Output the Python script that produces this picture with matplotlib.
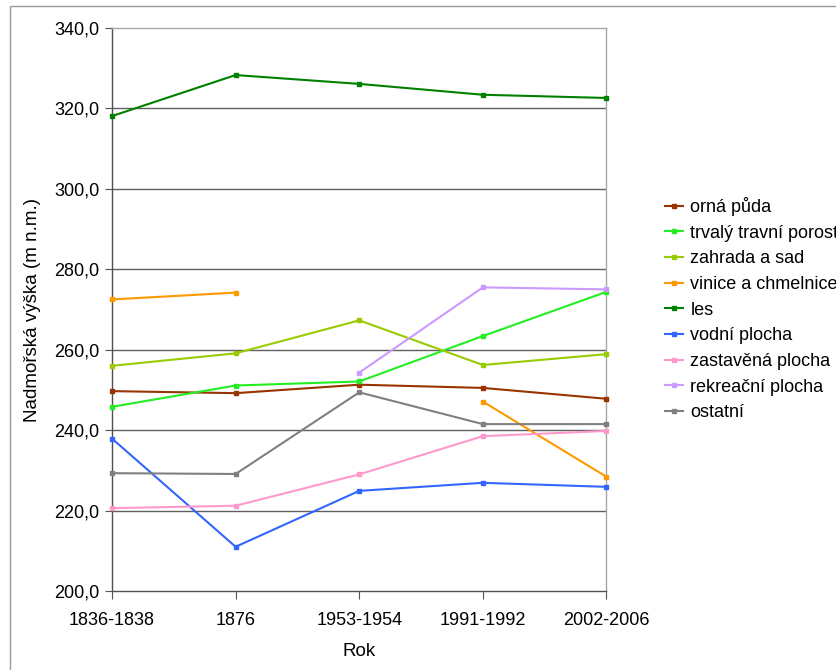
import numpy as np
import matplotlib
matplotlib.use("Agg")
import matplotlib.pyplot as plt
from matplotlib.patches import Rectangle

plt.rcParams['font.family'] = ['Liberation Sans', 'DejaVu Sans']

categories = ["1836-1838", "1876", "1953-1954", "1991-1992", "2002-2006"]
nan = np.nan
orna_puda = [249.7, 249.2, 251.3, 250.5, 247.8]
trvaly_travni_porost = [245.8, 251.1, 252.1, 263.4, 274.4]
zahrada_a_sad = [256.0, 259.1, 267.3, 256.2, 258.9]
vinice_a_chmelnice = [272.5, 274.2, nan, 247.1, 228.4]
les = [318.1, 328.3, 326.1, 323.4, 322.6]
vodni_plocha = [237.9, 211.0, 224.9, 226.9, 225.9]
zastavena_plocha = [220.6, 221.2, 229.0, 238.5, 239.8]
rekreacni_plocha = [nan, nan, 254.3, 275.5, 275.0]
ostatni = [229.3, 229.1, 249.4, 241.5, 241.5]

series_names = ["orná půda", "trvalý travní porost", "zahrada a sad",
                "vinice a chmelnice", "les", "vodní plocha",
                "zastavěná plocha", "rekreační plocha", "ostatní"]
series_values = [orna_puda, trvaly_travni_porost, zahrada_a_sad,
                 vinice_a_chmelnice, les, vodni_plocha,
                 zastavena_plocha, rekreacni_plocha, ostatni]
colors = ["#993300", "#22EE22", "#99CC00", "#FF9900", "#008000",
          "#3366FF", "#FF99CC", "#CC99FF", "#808080"]

y_ticks = [200, 220, 240, 260, 280, 300, 320, 340]
y_tick_labels = ["200,0", "220,0", "240,0", "260,0", "280,0", "300,0", "320,0", "340,0"]

fig = plt.figure(figsize=(8.37, 6.7), dpi=100)
fig.patch.set_facecolor("white")
ax = fig.add_axes([112/837, 1-591/670, (606.5-112)/837, (591-28)/670])

x = np.arange(len(categories))
handles = []
for name, vals, c in zip(series_names, series_values, colors):
    h, = ax.plot(x, np.array(vals, dtype=float), color=c, lw=1.5,
                 marker='s', markersize=3.5, label=name, clip_on=False, zorder=3)
    handles.append(h)

ax.set_xlim(0, len(categories)-1)
ax.set_ylim(200, 340)
ax.set_yticks(y_ticks)
ax.set_yticklabels(y_tick_labels, fontsize=13)
ax.set_xticks(x)
ax.set_xticklabels(categories, fontsize=13)
ax.tick_params(axis='y', direction='out', length=5, color='#555555', pad=4)
ax.tick_params(axis='x', direction='out', length=6, color='#555555', pad=9)

for yv in y_ticks[1:-1]:
    ax.axhline(yv, color='#606060', lw=1.0, zorder=1)

ax.spines['left'].set_color('#505050')
ax.spines['bottom'].set_color('#505050')
ax.spines['top'].set_color('#a8a8a8')
ax.spines['right'].set_color('#a8a8a8')
for s in ax.spines.values():
    s.set_linewidth(1.0)

ax.set_xlabel("Rok", fontsize=13.5, labelpad=10)
fig.text(33/837, 1-309.5/670, "Nadmořská výška (m n.m.)", rotation=90,
         ha='center', va='center', fontsize=13.5)

leg = fig.legend(handles=handles, loc='upper left',
                 bbox_to_anchor=(665/837, 1-197/670), frameon=False,
                 fontsize=13, handlelength=1.0, handletextpad=0.4,
                 labelspacing=0.48, borderaxespad=0, borderpad=0)

fig.patches.append(Rectangle((10/837, -0.05), 1.2, 1-6/670+0.05,
                             transform=fig.transFigure, fill=False,
                             edgecolor='#9a9a9a', lw=1.0))

fig.savefig("out.png", dpi=100)
